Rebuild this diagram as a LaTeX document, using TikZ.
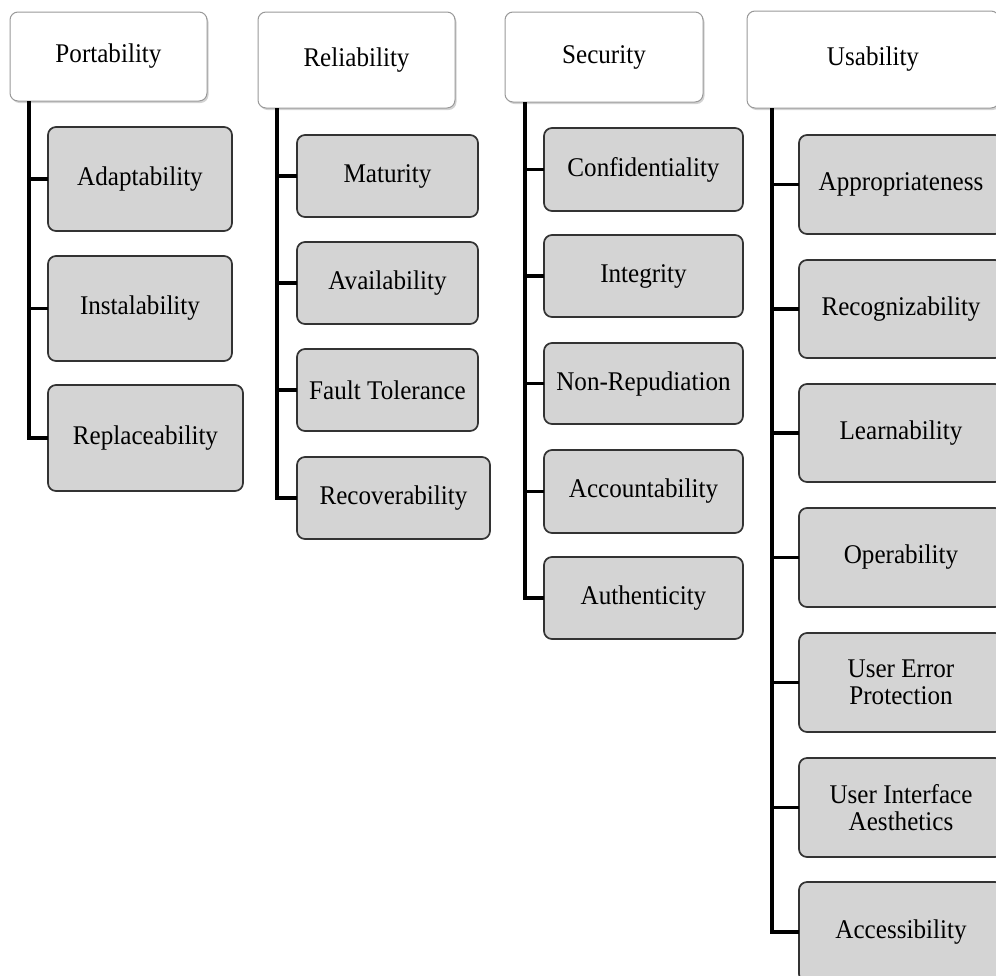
\documentclass[tikz,border=0pt]{standalone}
\usepackage{fontspec}
\setmainfont{Liberation Serif}[FakeStretch=0.93]
\usetikzlibrary{shadows}
\newcommand\qbox[7]{\node[#1, minimum width={#5-#3}, minimum height={#6-#4}] (#2) at ({(#3+#5)/2},{(#4+#6)/2}) {#7};}
\begin{document}
\begin{tikzpicture}[x=1pt,y=-1pt,
  head/.style={draw=black!40, line width=1pt, fill=white, rounded corners=8pt,
    inner sep=0pt, outer sep=0pt,
    drop shadow={shadow xshift=1.5pt, shadow yshift=-2pt, opacity=0.35, fill=black!50},
    font=\fontsize{27}{27}\selectfont, align=center},
  sub/.style={draw=black!80, line width=1.7pt, fill=black!17, rounded corners=8pt,
    inner sep=0pt, outer sep=0pt, font=\fontsize{27}{27}\selectfont, align=center},
  spine/.style={line width=3.6pt, black, line join=miter}]
\useasboundingbox (0,0) rectangle (996,975);
\clip (0,0) rectangle (996,975);
% headers
\qbox{head}{hp}{10}{12}{207}{101}{Portability}
\qbox{head}{hr}{258}{12}{455}{108}{Reliability}
\qbox{head}{hs}{505}{12}{703}{102}{Security}
\qbox{head}{hu}{747}{11}{999}{108}{Usability}
% Portability
\qbox{sub}{a1}{48}{127}{232}{231}{Adaptability}
\qbox{sub}{a2}{48}{256}{232}{361}{Instalability}
\qbox{sub}{a3}{48}{385}{243}{491}{Replaceability}
% Reliability
\qbox{sub}{b1}{297}{135}{478}{217}{Maturity}
\qbox{sub}{b2}{297}{242}{478}{324}{Availability}
\qbox{sub}{b3}{297}{349}{478}{431}{Fault Tolerance}
\qbox{sub}{b4}{297}{457}{490}{539}{Recoverability}
% Security
\qbox{sub}{c1}{544}{128}{743}{211}{Confidentiality}
\qbox{sub}{c2}{544}{235}{743}{317}{Integrity}
\qbox{sub}{c3}{544}{343}{743}{424}{Non-Repudiation}
\qbox{sub}{c4}{544}{450}{743}{533}{Accountability}
\qbox{sub}{c5}{544}{557}{743}{639}{Authenticity}
% Usability
\qbox{sub}{d1}{799}{135}{1003}{234}{Appropriateness}
\qbox{sub}{d2}{799}{260}{1003}{358}{Recognizability}
\qbox{sub}{d3}{799}{384}{1003}{482}{Learnability}
\qbox{sub}{d4}{799}{508}{1003}{607}{Operability}
\qbox{sub}{d5}{799}{633}{1003}{732}{User Error\\Protection}
\qbox{sub}{d6}{799}{758}{1003}{857}{User Interface\\Aesthetics}
\qbox{sub}{d7}{799}{882}{1003}{982}{Accessibility}
% spines
\coordinate (ps) at (29,0);
\coordinate (rs) at (277,0);
\coordinate (ss) at (525,0);
\coordinate (us) at (772,0);
\draw[spine] (hp.south -| ps) |- (a3.west);
\foreach \n in {a1,a2} \draw[spine] (\n.west) -- (\n.west -| ps);
\draw[spine] (hr.south -| rs) |- (b4.west);
\foreach \n in {b1,b2,b3} \draw[spine] (\n.west) -- (\n.west -| rs);
\draw[spine] (hs.south -| ss) |- (c5.west);
\foreach \n in {c1,c2,c3,c4} \draw[spine] (\n.west) -- (\n.west -| ss);
\draw[spine] (hu.south -| us) |- (d7.west);
\foreach \n in {d1,d2,d3,d4,d5,d6} \draw[spine] (\n.west) -- (\n.west -| us);
\end{tikzpicture}
\end{document}
